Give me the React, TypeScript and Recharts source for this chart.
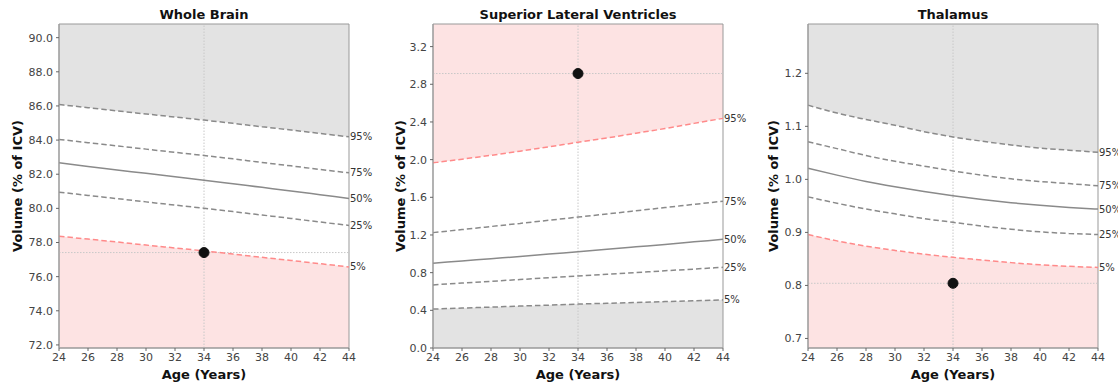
import React from 'react'
import {
  ComposedChart, Line, Area, XAxis, YAxis,
  ReferenceLine, ReferenceDot, ReferenceArea,
} from 'recharts'

const AGES = [24, 26, 28, 30, 32, 34, 36, 38, 40, 42, 44]
const X_TICKS = [24, 26, 28, 30, 32, 34, 36, 38, 40, 42, 44]

// Whole Brain
const WB_P95 = [86.08, 85.9, 85.71, 85.53, 85.35, 85.17, 84.98, 84.78, 84.59, 84.39, 84.19]
const WB_P75 = [84.04, 83.85, 83.66, 83.47, 83.28, 83.1, 82.9, 82.69, 82.49, 82.28, 82.08]
const WB_P50 = [82.67, 82.45, 82.25, 82.05, 81.85, 81.65, 81.44, 81.23, 81.02, 80.8, 80.58]
const WB_P25 = [80.95, 80.76, 80.57, 80.38, 80.19, 80.01, 79.81, 79.61, 79.41, 79.2, 79.0]
const WB_P5 = [78.37, 78.2, 78.03, 77.85, 77.68, 77.51, 77.32, 77.13, 76.95, 76.76, 76.57]
const WB_SUBJECT = { age: 34, value: 77.41 }
const WB_Y_TICKS = [72, 74, 76, 78, 80, 82, 84, 86, 88, 90]
const WB_DOMAIN: [number, number] = [71.82, 90.8]

// Superior Lateral Ventricles
const SLV_P95 = [1.966, 2.005, 2.046, 2.09, 2.136, 2.184, 2.23, 2.28, 2.33, 2.385, 2.438]
const SLV_P75 = [1.225, 1.257, 1.29, 1.323, 1.356, 1.39, 1.423, 1.457, 1.491, 1.525, 1.559]
const SLV_P50 = [0.9, 0.924, 0.948, 0.972, 0.997, 1.023, 1.048, 1.074, 1.1, 1.127, 1.154]
const SLV_P25 = [0.67, 0.689, 0.708, 0.727, 0.746, 0.765, 0.783, 0.801, 0.82, 0.838, 0.857]
const SLV_P5 = [0.413, 0.424, 0.434, 0.445, 0.455, 0.466, 0.475, 0.484, 0.493, 0.502, 0.511]
const SLV_SUBJECT = { age: 34, value: 2.914 }
const SLV_Y_TICKS = [0, 0.4, 0.8, 1.2, 1.6, 2.0, 2.4, 2.8, 3.2]
const SLV_DOMAIN: [number, number] = [0, 3.44]

// Thalamus
const TH_P95 = [1.14, 1.125, 1.113, 1.102, 1.09, 1.08, 1.072, 1.065, 1.059, 1.055, 1.051]
const TH_P75 = [1.071, 1.058, 1.045, 1.034, 1.025, 1.016, 1.008, 1.001, 0.996, 0.992, 0.988]
const TH_P50 = [1.021, 1.008, 0.996, 0.986, 0.977, 0.969, 0.962, 0.956, 0.951, 0.947, 0.944]
const TH_P25 = [0.967, 0.955, 0.944, 0.935, 0.926, 0.919, 0.912, 0.906, 0.901, 0.898, 0.896]
const TH_P5 = [0.896, 0.884, 0.874, 0.866, 0.859, 0.853, 0.848, 0.843, 0.839, 0.836, 0.834]
const TH_SUBJECT = { age: 34, value: 0.804 }
const TH_Y_TICKS = [0.7, 0.8, 0.9, 1.0, 1.1, 1.2]
const TH_DOMAIN: [number, number] = [0.682, 1.293]

const FONT = '"DejaVu Sans", sans-serif'
const GRAY_FILL = '#e3e3e3'
const RED_FILL = '#fde3e3'
const GRAY_LINE = '#8a8a8a'
const RED_LINE = '#ff8a8a'

const buildRows = (p95: number[], p75: number[], p50: number[], p25: number[], p5: number[]) =>
  AGES.map((age, i) => ({ age, p95: p95[i], p75: p75[i], p50: p50[i], p25: p25[i], p5: p5[i] }))

const endLabel = (text: string) => (props: any) => {
  if (props.index !== AGES.length - 1) return null
  return (
    <text key={text} x={props.x + 1} y={props.y} dy={3.5} fontSize={10} fill="#333" fontFamily={FONT}>
      {text}
    </text>
  )
}

interface PanelProps {
  title: string
  rows: ReturnType<typeof buildRows>
  domain: [number, number]
  yTicks: number[]
  subject: { age: number; value: number }
  upperRed: boolean
  left: number
  width: number
  labelX: number
}

function Panel({ title, rows, domain, yTicks, subject, upperRed, left, width, labelX }: PanelProps) {
  const yAxisW = 59
  const plotW = 290
  const rightMargin = width - yAxisW - plotW
  const upperFill = upperRed ? RED_FILL : GRAY_FILL
  const lowerFill = upperRed ? GRAY_FILL : RED_FILL
  const upperStroke = upperRed ? RED_LINE : GRAY_LINE
  const lowerStroke = upperRed ? GRAY_LINE : RED_LINE
  const dash = '5.5 3'

  return (
    <div style={{ position: 'absolute', left, top: 0, width, height: 384 }}>
      <div
        style={{
          position: 'absolute', left: yAxisW, width: plotW, top: 6, textAlign: 'center',
          fontFamily: FONT, fontWeight: 'bold', fontSize: 13, lineHeight: '17px', color: '#111',
        }}
      >
        {title}
      </div>
      <ComposedChart width={width} height={384} data={rows} margin={{ top: 24, right: rightMargin, left: 0, bottom: 0 }}>
        <XAxis
          dataKey="age"
          type="number"
          domain={[24, 44]}
          ticks={X_TICKS}
          height={36}
          tickSize={3}
          tickMargin={2}
          tick={{ fontSize: 11, fill: '#444', fontFamily: FONT }}
          axisLine={{ stroke: '#999' }}
          tickLine={{ stroke: '#666' }}
          label={{
            content: (p: any) => (
              <text
                x={p.viewBox.x + p.viewBox.width / 2}
                y={p.viewBox.y + 26}
                textAnchor="middle"
                dominantBaseline="central"
                fontFamily={FONT}
                fontWeight="bold"
                fontSize={13}
                fill="#111"
              >
                Age (Years)
              </text>
            ),
          }}
        />
        <YAxis
          type="number"
          domain={domain}
          ticks={yTicks}
          allowDataOverflow
          width={yAxisW}
          tickSize={3}
          tickMargin={3}
          tickFormatter={(v: number) => v.toFixed(1)}
          tick={{ fontSize: 11, fill: '#444', fontFamily: FONT }}
          axisLine={{ stroke: '#999' }}
          tickLine={{ stroke: '#666' }}
          label={{
            content: (p: any) => {
              const x = p.viewBox.x + labelX
              const y = p.viewBox.y + p.viewBox.height / 2
              return (
                <text
                  x={x}
                  y={y}
                  transform={`rotate(-90 ${x} ${y})`}
                  textAnchor="middle"
                  dominantBaseline="central"
                  fontFamily={FONT}
                  fontWeight="bold"
                  fontSize={13}
                  fill="#111"
                >
                  Volume (% of ICV)
                </text>
              )
            },
          }}
        />
        <Area
          type="monotone"
          dataKey="p95"
          baseValue={domain[1]}
          fill={upperFill}
          fillOpacity={1}
          stroke="none"
          isAnimationActive={false}
        />
        <Area
          type="monotone"
          dataKey="p5"
          baseValue={domain[0]}
          fill={lowerFill}
          fillOpacity={1}
          stroke="none"
          isAnimationActive={false}
        />
        <ReferenceLine x={subject.age} stroke="#c8c8c8" strokeDasharray="1.5 1.5" />
        <ReferenceLine y={subject.value} stroke="#c8c8c8" strokeDasharray="1.5 1.5" />
        <Line type="monotone" dataKey="p95" stroke={upperStroke} strokeWidth={1.5} strokeDasharray={dash}
          dot={false} isAnimationActive={false} label={endLabel('95%')} />
        <Line type="monotone" dataKey="p75" stroke={GRAY_LINE} strokeWidth={1.5} strokeDasharray={dash}
          dot={false} isAnimationActive={false} label={endLabel('75%')} />
        <Line type="monotone" dataKey="p50" stroke={GRAY_LINE} strokeWidth={1.5}
          dot={false} isAnimationActive={false} label={endLabel('50%')} />
        <Line type="monotone" dataKey="p25" stroke={GRAY_LINE} strokeWidth={1.5} strokeDasharray={dash}
          dot={false} isAnimationActive={false} label={endLabel('25%')} />
        <Line type="monotone" dataKey="p5" stroke={lowerStroke} strokeWidth={1.5} strokeDasharray={dash}
          dot={false} isAnimationActive={false} label={endLabel('5%')} />
        <ReferenceArea x1={24} x2={44} y1={domain[0]} y2={domain[1]} fill="none" stroke="#999" strokeWidth={1} />
        <ReferenceDot x={subject.age} y={subject.value} r={5} fill="#111" stroke="#111" />
      </ComposedChart>
    </div>
  )
}

export default function App() {
  return (
    <div style={{ position: 'relative', width: 1118, height: 384, background: '#fff', overflow: 'hidden' }}>
      <style>{'body{margin:0}'}</style>
      <Panel
        title="Whole Brain"
        rows={buildRows(WB_P95, WB_P75, WB_P50, WB_P25, WB_P5)}
        domain={WB_DOMAIN}
        yTicks={WB_Y_TICKS}
        subject={WB_SUBJECT}
        upperRed={false}
        left={0}
        width={380}
        labelX={17}
      />
      <Panel
        title="Superior Lateral Ventricles"
        rows={buildRows(SLV_P95, SLV_P75, SLV_P50, SLV_P25, SLV_P5)}
        domain={SLV_DOMAIN}
        yTicks={SLV_Y_TICKS}
        subject={SLV_SUBJECT}
        upperRed={true}
        left={374}
        width={380}
        labelX={26}
      />
      <Panel
        title="Thalamus"
        rows={buildRows(TH_P95, TH_P75, TH_P50, TH_P25, TH_P5)}
        domain={TH_DOMAIN}
        yTicks={TH_Y_TICKS}
        subject={TH_SUBJECT}
        upperRed={false}
        left={749}
        width={369}
        labelX={24}
      />
    </div>
  )
}
